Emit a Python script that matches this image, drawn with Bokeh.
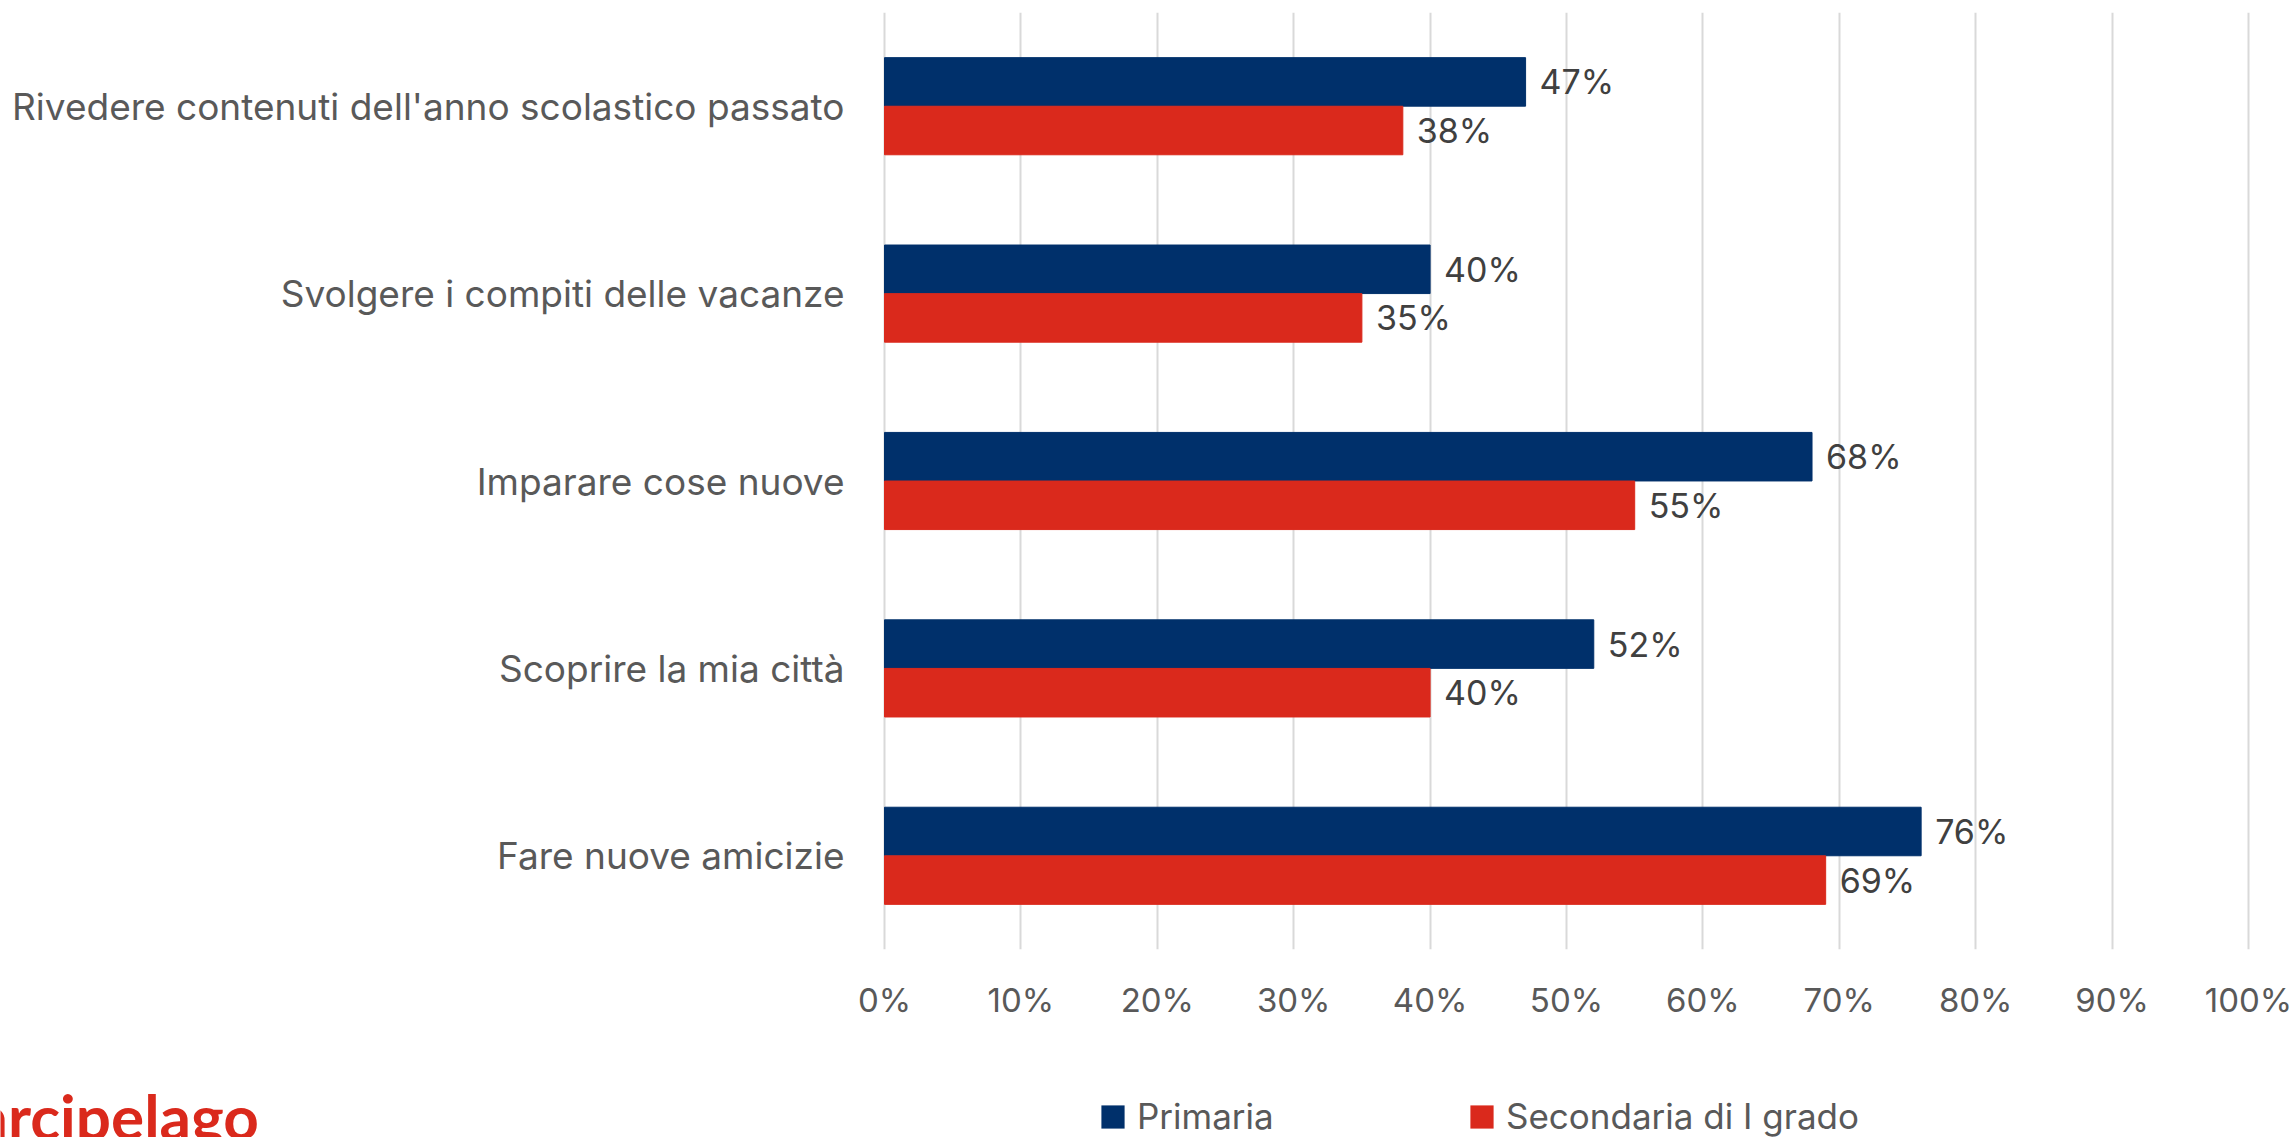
from bokeh.plotting import figure
from bokeh.layouts import column
from bokeh.models import (ColumnDataSource, FactorRange, Range1d, FixedTicker,
                          Legend, LegendItem, Label)
from bokeh.transform import dodge
from bokeh.core.properties import value
from bokeh.embed import file_html
from bokeh.resources import INLINE

# ---- data ----
categories = [
    "Rivedere contenuti dell'anno scolastico passato",
    "Svolgere i compiti delle vacanze",
    "Imparare cose nuove",
    "Scoprire la mia città",
    "Fare nuove amicizie",
]
primaria = [47, 40, 68, 52, 76]
secondaria = [38, 35, 55, 40, 69]
series_names = ["Primaria", "Secondaria di I grado"]
x_ticks = [0, 10, 20, 30, 40, 50, 60, 70, 80, 90, 100]
x_tick_labels = [f"{t}%" for t in x_ticks]
logo_text = "arcipelago"

BLUE = "#00306B"
RED = "#DA291C"
GREY = "#595959"
DARK = "#404040"
FONT = "Inter"

src = ColumnDataSource(dict(
    cat=categories,
    prim=primaria,
    sec=secondaria,
    prim_lbl=[f"{v}%" for v in primaria],
    sec_lbl=[f"{v}%" for v in secondaria],
))

# ---- layout constants (pixels) ----
W = 2295
H_MAIN = 1040
H_FOOT = 97
X0_PX, X100_PX = 884, 2248          # where 0% and 100% fall
px_per_unit = (X100_PX - X0_PX) / 100.0
x_start = -X0_PX / px_per_unit
x_end = 100 + (W - X100_PX) / px_per_unit

p = figure(
    width=W, height=H_MAIN,
    y_range=FactorRange(factors=list(reversed(categories))),
    x_range=Range1d(x_start, x_end),
    y_axis_location=None,
    output_backend="svg", toolbar_location=None,
    min_border_left=0, min_border_right=0,
    min_border_top=12, min_border_bottom=91,
)
p.outline_line_color = None
p.background_fill_color = "white"
p.border_fill_color = "white"

bh = 0.259
off = 0.1297
r_prim = p.hbar(y=dodge("cat", off, range=p.y_range), left=0, right="prim",
                height=bh, source=src, fill_color=BLUE, line_color=BLUE)
r_sec = p.hbar(y=dodge("cat", -off, range=p.y_range), left=0, right="sec",
               height=bh, source=src, fill_color=RED, line_color=RED)

# value labels
p.text(x="prim", y=dodge("cat", off, range=p.y_range), text="prim_lbl",
       source=src, x_offset=14, text_align="left", text_baseline="middle",
       text_font=value(FONT), text_font_size="34px", text_color=DARK)
p.text(x="sec", y=dodge("cat", -off, range=p.y_range), text="sec_lbl",
       source=src, x_offset=14, text_align="left", text_baseline="middle",
       text_font=value(FONT), text_font_size="34px", text_color=DARK)

# category labels (left of the 0% line)
p.text(x=0, y="cat", text="cat", source=src, x_offset=-40,
       text_align="right", text_baseline="middle",
       text_font=value(FONT), text_font_size="37px", text_color=GREY)

# x axis
p.xaxis.ticker = FixedTicker(ticks=x_ticks)
p.xaxis.major_label_overrides = dict(zip(x_ticks, x_tick_labels))
p.xaxis.axis_line_color = None
p.xaxis.major_tick_line_color = None
p.xaxis.minor_tick_line_color = None
p.xaxis.major_label_text_font = FONT
p.xaxis.major_label_text_font_size = "33px"
p.xaxis.major_label_text_color = GREY
p.xaxis.major_label_standoff = 24

p.ygrid.grid_line_color = None
p.xgrid.grid_line_color = "#D9D9D9"
p.xgrid.grid_line_width = 2

# ---- footer: legend + logo ----
f = figure(
    width=W, height=H_FOOT,
    x_range=Range1d(0, W), y_range=Range1d(0, H_FOOT),
    x_axis_type=None, y_axis_type=None,
    output_backend="svg", toolbar_location=None,
    min_border=0,
)
f.outline_line_color = None
f.xgrid.grid_line_color = None
f.ygrid.grid_line_color = None
f.background_fill_color = "white"
f.border_fill_color = "white"

# zero-size swatch renderers used only for the legend
d_prim = f.hbar(y=[0], left=[0], right=[0], height=0,
                fill_color=BLUE, line_color=None)
d_sec = f.hbar(y=[0], left=[0], right=[0], height=0,
               fill_color=RED, line_color=None)

legend = Legend(
    items=[LegendItem(label=series_names[0], renderers=[d_prim]),
           LegendItem(label=series_names[1], renderers=[d_sec])],
    orientation="horizontal",
    location=(1098, 0),
    glyph_width=29, glyph_height=29, label_height=29,
    label_standoff=10, spacing=12, label_width=318,
    label_text_font=FONT, label_text_font_size="35px", label_text_color=GREY,
    padding=0, margin=0,
    border_line_color=None, background_fill_alpha=0,
)
f.add_layout(legend, "center")

logo = Label(x=-24, y=22, text=logo_text, text_font="Lato",
             text_font_style="bold", text_font_size="62px", text_color=RED,
             text_baseline="alphabetic", text_align="left")
f.add_layout(logo)

layout = column(p, f, spacing=0)
open("out.html", "w").write(file_html(layout, INLINE))
